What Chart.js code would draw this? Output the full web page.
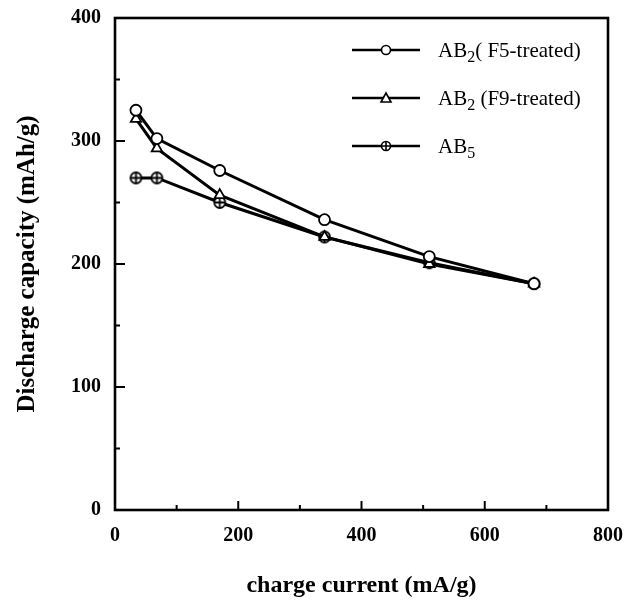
<!DOCTYPE html>
<html>
<head>
<meta charset="utf-8">
<script src="https://cdn.jsdelivr.net/npm/chart.js@4/dist/chart.umd.min.js"></script>
<style>
  html, body { margin: 0; padding: 0; background: #fff; }
  #wrap { width: 625px; height: 600px; }
</style>
</head>
<body>
<div id="wrap"><canvas id="myChart" width="625" height="600"></canvas></div>
<script>
// charge current (mA/g)
var currents = [34, 68, 170, 340, 510, 680];
// discharge capacity (mAh/g)
var capF5  = [325, 302, 276, 236, 206, 184];
var capF9  = [318, 294, 256, 222, 200, 184];
var capAB5 = [270, 270, 250, 222, 201, 184];

var seriesNames = ["AB2( F5-treated)", "AB2 (F9-treated)", "AB5"];
var xTicksMajor = [200, 400, 600];
var xTicksMinor = [100, 300, 500, 700];
var yTicksMajor = [100, 200, 300];
var yTicksMinor = [50, 150, 250, 350];

var serif = "'Liberation Serif', 'Times New Roman', serif";

// circle with a plus inside, used as point style for AB5
function crossCircle(r) {
    var c = document.createElement("canvas");
    var s = Math.ceil(r * 2 + 4);
    c.width = s; c.height = s;
    var g = c.getContext("2d");
    var m = s / 2;
    g.fillStyle = "#fff";
    g.strokeStyle = "#000";
    g.lineWidth = 1.8;
    g.beginPath();
    g.arc(m, m, r, 0, Math.PI * 2);
    g.fill();
    g.stroke();
    g.beginPath();
    g.moveTo(m - r, m); g.lineTo(m + r, m);
    g.moveTo(m, m - r); g.lineTo(m, m + r);
    g.stroke();
    return c;
}

function toPoints(ys) {
    var pts = [];
    for (var i = 0; i < currents.length; i++) {
        pts.push({x: currents[i], y: ys[i]});
    }
    return pts;
}

// box frame + inward ticks
var framePlugin = {
    id: "frame",
    afterDraw: function(chart) {
        var ctx = chart.ctx;
        var a = chart.chartArea;
        var xs = chart.scales.x, ys = chart.scales.y;
        ctx.save();
        ctx.strokeStyle = "#000";
        ctx.lineWidth = 2.6;
        ctx.strokeRect(a.left, a.top, a.right - a.left, a.bottom - a.top);
        ctx.lineWidth = 2;
        ctx.beginPath();
        xTicksMajor.forEach(function(v) {
            var px = xs.getPixelForValue(v);
            ctx.moveTo(px, a.bottom); ctx.lineTo(px, a.bottom - 9);
        });
        xTicksMinor.forEach(function(v) {
            var px = xs.getPixelForValue(v);
            ctx.moveTo(px, a.bottom); ctx.lineTo(px, a.bottom - 5);
        });
        yTicksMajor.forEach(function(v) {
            var py = ys.getPixelForValue(v);
            ctx.moveTo(a.left, py); ctx.lineTo(a.left + 10, py);
        });
        yTicksMinor.forEach(function(v) {
            var py = ys.getPixelForValue(v);
            ctx.moveTo(a.left, py); ctx.lineTo(a.left + 5, py);
        });
        ctx.stroke();
        ctx.restore();
    }
};

// legend drawn inside the plot with subscripts
var legendPlugin = {
    id: "subLegend",
    afterDraw: function(chart) {
        var ctx = chart.ctx;
        var rows = [50, 98, 146];
        var x0 = 352, x1 = 420, xm = 386, tx = 438;
        ctx.save();
        for (var i = 0; i < seriesNames.length; i++) {
            var y = rows[i];
            ctx.strokeStyle = "#000";
            ctx.lineWidth = 2.6;
            ctx.beginPath();
            ctx.moveTo(x0, y); ctx.lineTo(x1, y);
            ctx.stroke();
            // marker
            ctx.lineWidth = 1.6;
            ctx.fillStyle = "#fff";
            ctx.beginPath();
            if (i === 1) {
                ctx.moveTo(xm, y - 5);
                ctx.lineTo(xm + 5, y + 4);
                ctx.lineTo(xm - 5, y + 4);
                ctx.closePath();
                ctx.fill(); ctx.stroke();
            } else {
                ctx.arc(xm, y, 4.5, 0, Math.PI * 2);
                ctx.fill(); ctx.stroke();
                if (i === 2) {
                    ctx.beginPath();
                    ctx.moveTo(xm - 4.5, y); ctx.lineTo(xm + 4.5, y);
                    ctx.moveTo(xm, y - 4.5); ctx.lineTo(xm, y + 4.5);
                    ctx.stroke();
                }
            }
            // text: AB + subscript digit + rest
            var name = seriesNames[i];
            var head = name.substring(0, 2);
            var sub = name.substring(2, 3);
            var rest = name.substring(3);
            ctx.fillStyle = "#000";
            ctx.textBaseline = "alphabetic";
            ctx.textAlign = "left";
            var base = y + 7;
            ctx.font = "21px " + serif;
            ctx.fillText(head, tx, base);
            var w = ctx.measureText(head).width;
            ctx.font = "16px " + serif;
            ctx.fillText(sub, tx + w, base + 5);
            w += ctx.measureText(sub).width;
            ctx.font = "21px " + serif;
            ctx.fillText(rest, tx + w, base);
        }
        ctx.restore();
    }
};

var lineData = {
    datasets: [{
        label: seriesNames[0],
        data: toPoints(capF5),
        borderColor: "#000",
        borderWidth: 3,
        pointStyle: "circle",
        pointRadius: 5.5,
        pointBorderWidth: 1.8,
        pointBackgroundColor: "#fff",
        pointBorderColor: "#000"
    }, {
        label: seriesNames[1],
        data: toPoints(capF9),
        borderColor: "#000",
        borderWidth: 3,
        pointStyle: "triangle",
        pointRadius: 6,
        pointBorderWidth: 1.8,
        pointBackgroundColor: "#fff",
        pointBorderColor: "#000"
    }, {
        label: seriesNames[2],
        data: toPoints(capAB5),
        borderColor: "#000",
        borderWidth: 3,
        pointStyle: crossCircle(5.5),
        pointRadius: 6
    }]
};

var tickFont = { family: serif, size: 20, weight: "bold" };

var lineOptions = {
    responsive: false,
    animation: false,
    layout: { padding: { left: 13, top: 18, right: 17, bottom: 0 } },
    plugins: {
        legend: { display: false },
        tooltip: { enabled: false }
    },
    scales: {
        x: {
            type: "linear",
            min: 0, max: 800,
            grid: { display: false, drawTicks: false },
            border: { display: false },
            ticks: { stepSize: 200, color: "#000", font: tickFont, padding: 14, maxRotation: 0 },
            title: {
                display: true,
                text: "charge current (mA/g)",
                color: "#000",
                font: { family: serif, size: 24, weight: "bold" },
                padding: 0
            },
            afterFit: function(scale) {
                scale.height = 90;
                scale.paddingLeft = 0;
                scale.paddingRight = 0;
            }
        },
        y: {
            type: "linear",
            min: 0, max: 400,
            grid: { display: false, drawTicks: false },
            border: { display: false },
            ticks: { stepSize: 100, color: "#000", font: tickFont, padding: 14 },
            title: {
                display: true,
                text: "Discharge capacity (mAh/g)",
                color: "#000",
                font: { family: serif, size: 25, weight: "bold" },
                padding: 0
            },
            afterFit: function(scale) {
                scale.width = 102;
                scale.paddingTop = 0;
                scale.paddingBottom = 0;
            }
        }
    }
};

var ctx = document.getElementById("myChart");
var myChart = new Chart(ctx, {
    type: "line",
    data: lineData,
    options: lineOptions,
    plugins: [framePlugin, legendPlugin]
});
</script>
</body>
</html>
